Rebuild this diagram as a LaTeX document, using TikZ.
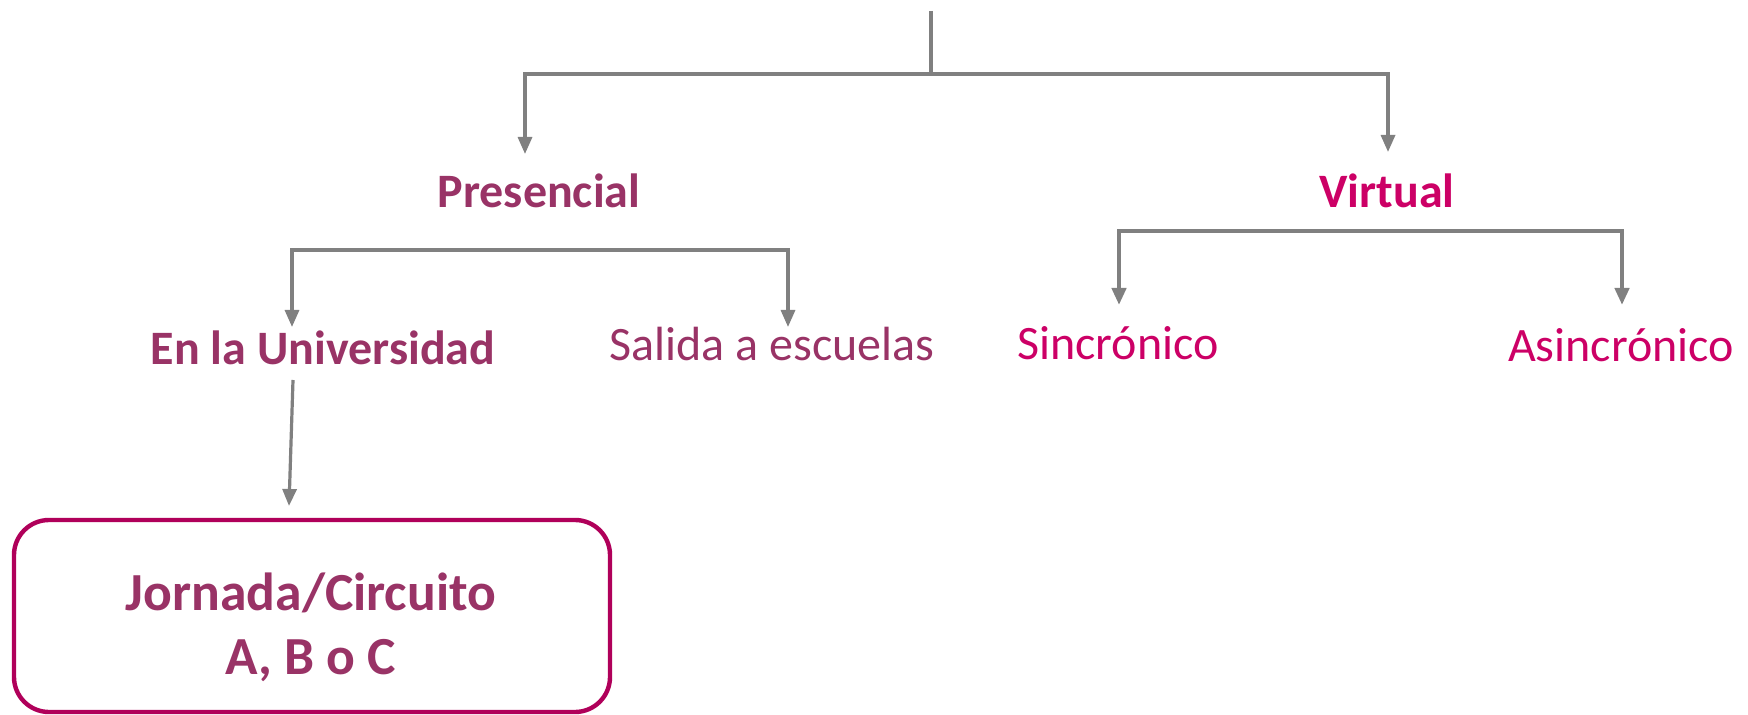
\documentclass[tikz,border=0pt]{standalone}
\usepackage{fontspec}
\setmainfont{Carlito}
\usetikzlibrary{arrows.meta}
\definecolor{plum}{HTML}{993366}
\definecolor{mag}{HTML}{CC0066}
\definecolor{boxc}{HTML}{B0005A}
\definecolor{ln}{HTML}{808080}
\begin{document}
\begin{tikzpicture}[x=0.5pt,y=-0.5pt,
  conn/.style={draw=ln,line width=1.6pt},
  tipa/.tip={Triangle[width=7pt,length=8.5pt]},
  arr/.style={conn,-tipa},
  darr/.style={conn,tipa-tipa},
  thickdarr/.style={draw=ln,line width=2.2pt,tipa-tipa},
  lblB/.style={font=\fontsize{24}{28}\selectfont\bfseries,inner sep=0pt,anchor=base},
  lblR/.style={font=\fontsize{24}{28}\selectfont,inner sep=0pt,anchor=base},
  jorlbl/.style={font=\fontsize{26.8}{30}\selectfont\bfseries,inner sep=0pt,anchor=base,text=plum},
  roundbox/.style={draw=boxc,line width=2.2pt,rounded corners=17.5pt,fill=white,
    minimum width=298pt,minimum height=96pt,inner sep=0pt}
]
\useasboundingbox (0,0) rectangle (1748,715);

% labels
\node[lblB,text=plum] (pres) at (539,208) {Presencial};
\node[lblB,text=mag] (virt) at (1387,208) {Virtual};
\node[lblB,text=plum] (univ) at (323,365) {En la Universidad};
\node[lblR,text=plum] (sal) at (772,361) {Salida a escuelas};
\node[lblR,text=mag] (sin) at (1118,360) {Sincrónico};
\node[lblR,text=mag] (asin) at (1621,362) {Asincrónico};

% box
\node[roundbox] (jor) at (312,616) {};
\node[jorlbl] (jor1) at (311,610) {Jornada/Circuito};
\node[jorlbl] (jor2) at (311,674) {A, B o C};

% top tree
\coordinate (root) at (931,11);
\coordinate (rootj) at (931,74);
\coordinate (tl) at (525,74);
\coordinate (tr) at (1388,74);
\coordinate (presTip) at (525,154);
\coordinate (virtTip) at (1388,152);
\draw[conn] (root) -- (rootj);
\draw[darr] (presTip) -- (tl) -- (tr) -- (virtTip);

% presencial tree
\coordinate (pl) at (292,250);
\coordinate (pr) at (788,250);
\coordinate (univTip) at (292,327);
\coordinate (salTip) at (788,327);
\draw[darr] (univTip) -- (pl) -- (pr) -- (salTip);

% virtual tree
\coordinate (vl) at (1119,231);
\coordinate (vr) at (1622,231);
\coordinate (sinTip) at (1119,305);
\coordinate (asinTip) at (1622,305);
\draw[thickdarr] (sinTip) -- (vl) -- (vr) -- (asinTip);

% universidad to box
\coordinate (univOut) at (293,380);
\coordinate (jorTip) at (289,506);
\draw[arr] (univOut) -- (jorTip);
\end{tikzpicture}
\end{document}
